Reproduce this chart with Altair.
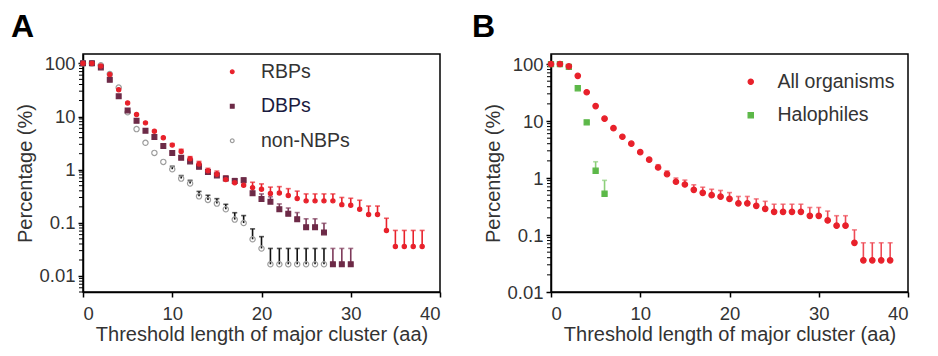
import altair as alt
import pandas as pd

FONT = "Liberation Sans"

# ---------------- Panel A data ----------------
series_A = ["RBPs", "DBPs", "non-NBPs"]

x_rbp = list(range(0, 39))
rbp = [100, 100, 89, 62, 32, 18, 10.9, 7.6, 5.3, 4.0,
       2.9, 2.2, 1.6, 1.28, 0.95, 0.82, 0.65, 0.57, 0.51, 0.46,
       0.43, 0.355, 0.365, 0.326, 0.286, 0.259, 0.259, 0.259, 0.259, 0.22,
       0.215, 0.18, 0.143, 0.143, 0.072, 0.036, 0.036, 0.036, 0.036]
rbp_up = [100, 100, 89, 62, 32, 18, 10.9, 7.6, 5.3, 4.0,
          3.1, 2.42, 1.76, 1.43, 1.06, 0.94, 0.75, 0.67, 0.61, 0.58,
          0.54, 0.47, 0.48, 0.44, 0.395, 0.35, 0.35, 0.35, 0.35, 0.30,
          0.29, 0.266, 0.207, 0.207, 0.122, 0.072, 0.072, 0.072, 0.072]

x_dbp = list(range(0, 31))
dbp = [100, 100, 84, 49, 24, 13, 8.3, 5.4, 4.1, 2.8,
       2.05, 1.68, 1.43, 1.13, 0.90, 0.78, 0.68, 0.61, 0.63, 0.36,
       0.28, 0.25, 0.18, 0.148, 0.117, 0.083, 0.083, 0.066, 0.0166, 0.0166,
       0.0166]
dbp_up = [100, 100, 84, 49, 24, 13, 8.3, 5.4, 4.1, 2.8,
          2.05, 1.68, 1.43, 1.27, 1.0, 0.87, 0.76, 0.68, 0.70, 0.45,
          0.35, 0.31, 0.227, 0.19, 0.156, 0.119, 0.119, 0.098, 0.033, 0.033,
          0.033]

x_non = list(range(0, 28))
non = [100, 100, 92, 63, 35, 12, 5.8, 3.2, 2.07, 1.4,
       1.02, 0.68, 0.55, 0.315, 0.27, 0.23, 0.18, 0.115, 0.099, 0.049,
       0.033, 0.0166, 0.0166, 0.0166, 0.0166, 0.0166, 0.0166, 0.0166]
non_up = [100, 100, 92, 63, 35, 12, 5.8, 3.2, 2.07, 1.4,
          1.16, 0.775, 0.63, 0.39, 0.33, 0.285, 0.223, 0.155, 0.137, 0.077,
          0.055, 0.033, 0.033, 0.033, 0.033, 0.033, 0.033, 0.033]

# ---------------- Panel B data ----------------
series_B = ["All organisms", "Halophiles"]

x_all = list(range(0, 39))
allorg = [100, 100, 91, 62, 32, 18.3, 11, 7.5, 5.3, 4.0,
          2.84, 2.1, 1.53, 1.17, 0.86, 0.77, 0.62, 0.55, 0.50, 0.47,
          0.43, 0.36, 0.36, 0.325, 0.288, 0.255, 0.255, 0.255, 0.255, 0.217,
          0.217, 0.18, 0.146, 0.146, 0.073, 0.036, 0.036, 0.036, 0.036]
allorg_up = [100, 100, 91, 62, 32, 18.3, 11, 7.5, 5.3, 4.0,
             2.84, 2.1, 1.71, 1.33, 1.0, 0.92, 0.76, 0.69, 0.635, 0.605,
             0.555, 0.475, 0.475, 0.43, 0.39, 0.347, 0.347, 0.347, 0.347, 0.304,
             0.304, 0.263, 0.218, 0.218, 0.123, 0.073, 0.073, 0.073, 0.073]

x_hal = list(range(0, 7))
hal = [100, 100, 89, 37.6, 9.5, 1.34, 0.53]
hal_up = [100, 100, 89, 37.6, 9.5, 1.93, 0.91]

y_ticks = [0.01, 0.1, 1, 10, 100]
x_ticks = [0, 10, 20, 30, 40]
mantissas = [2, 3, 4, 5, 6, 7, 8, 9]


def frame(name, xs, vals, ups):
    return pd.DataFrame({"series": name, "x": xs, "value": vals, "upper": ups})


dfA = pd.concat([frame("non-NBPs", x_non, non, non_up),
                 frame("DBPs", x_dbp, dbp, dbp_up),
                 frame("RBPs", x_rbp, rbp, rbp_up)], ignore_index=True)
dfB = pd.concat([frame("Halophiles", x_hal, hal, hal_up),
                 frame("All organisms", x_all, allorg, allorg_up)], ignore_index=True)

minorA = pd.DataFrame({"v": [m * 10.0 ** e for e in range(-3, 2) for m in mantissas
                             if 0.005 <= m * 10.0 ** e <= 150]})
minorB = pd.DataFrame({"v": [m * 10.0 ** e for e in range(-2, 2) for m in mantissas
                             if 0.01 <= m * 10.0 ** e <= 150]})

W, H = 357, 238


def xenc():
    return alt.X("x:Q", scale=alt.Scale(domain=[0, 40], nice=False, zero=False),
                 axis=alt.Axis(values=x_ticks, format="d",
                               title="Threshold length of major cluster (aa)"))


def yenc(field, dom):
    return alt.Y(f"{field}:Q", scale=alt.Scale(type="log", domain=dom, nice=False),
                 axis=alt.Axis(values=y_ticks, format="~g", title="Percentage (%)"))


def panel(df, minor, dom, series, shapes, fills, strokes, sizes, err_colors, legend, letter, dx):
    base = alt.Chart(df)
    errs = base.transform_filter("datum.upper > datum.value").transform_calculate(
        eser="'e_' + datum.series")
    ecol = alt.Color("eser:N", scale=alt.Scale(domain=["e_" + s for s in series],
                                               range=err_colors), legend=None)
    rules = errs.mark_rule(strokeWidth=1.6).encode(
        x=xenc(), y=yenc("value", dom), y2="upper:Q", color=ecol)
    caps = errs.mark_tick(orient="horizontal", size=5, thickness=1.6).encode(
        x=xenc(), y=yenc("upper", dom), color=ecol)
    pts = base.transform_calculate(sser="'s_' + datum.series").mark_point(
        strokeWidth=1.2, opacity=1).encode(
        x=xenc(), y=yenc("value", dom),
        shape=alt.Shape("series:N", scale=alt.Scale(domain=series, range=shapes), legend=legend),
        fill=alt.Fill("series:N", scale=alt.Scale(domain=series, range=fills), legend=legend),
        stroke=alt.Stroke("series:N", scale=alt.Scale(domain=series, range=strokes), legend=legend),
        size=alt.Size("sser:N", scale=alt.Scale(domain=["s_" + s for s in series], range=sizes),
                      legend=None),
    )
    ticks = alt.Chart(minor).mark_rule(color="black", strokeWidth=1).encode(
        y=yenc("v", dom), x=alt.value(-4), x2=alt.value(0))
    return alt.layer(ticks, rules, caps, pts).properties(
        width=W, height=H,
        title=alt.TitleParams(letter, dx=dx, offset=10))


legA = alt.Legend(title=None, orient="none", legendX=139.5, legendY=8, padding=0,
                  labelFont=FONT, labelFontSize=19.5, symbolSize=14, symbolStrokeWidth=1.2,
                  rowPadding=13.5, labelOffset=19,
                  labelColor=alt.expr("datum.label == 'DBPs' ? '#1b1b3f' : '#333333'"))
legB = alt.Legend(title=None, orient="none", legendX=190, legendY=18, padding=0,
                  labelFont=FONT, labelFontSize=19.5, symbolSize=28, symbolStrokeWidth=1.2,
                  rowPadding=12.5, labelOffset=17, labelColor="#333333")

A = panel(dfA, minorA, [0.005, 150], series_A,
          ["circle", "square", "circle"],
          ["#e8212b", "#6d2a47", "transparent"],
          ["#e8212b", "#6d2a47", "#9d9d9d"],
          [18, 28, 18],
          ["#e8212b", "#7d3a5a", "#111111"], legA, "A", -5)
B = panel(dfB, minorB, [0.01, 150], series_B,
          ["circle", "square"],
          ["#e8212b", "#5cb848"],
          ["#e8212b", "#5cb848"],
          [30, 26],
          ["#ee4a55", "#8ccf7a"], legB, "B", -12)

chart = alt.hconcat(A, B, spacing=29).resolve_scale(
    shape="independent", fill="independent", stroke="independent", size="independent",
    color="independent", x="independent", y="independent"
).properties(
    padding={"left": 2, "top": 2, "right": 0, "bottom": 0}
).configure_view(
    stroke="black", strokeWidth=1.5
).configure_axis(
    labelFont=FONT, labelFontSize=18.5, labelColor="#333333",
    titleFont=FONT, titleFontSize=20, titleFontWeight="normal", titleColor="#333333",
    tickColor="black", domainColor="black", tickSize=5, tickWidth=1.5, domainWidth=1.5,
    grid=False, labelPadding=3
).configure_axisY(
    titlePadding=3
).configure_axisX(
    titlePadding=2, labelPadding=7
).configure_title(
    font=FONT, fontSize=32, fontWeight="bold", color="black", anchor="start"
)

chart.save("out.html", embed_options={"renderer": "svg", "actions": False})
